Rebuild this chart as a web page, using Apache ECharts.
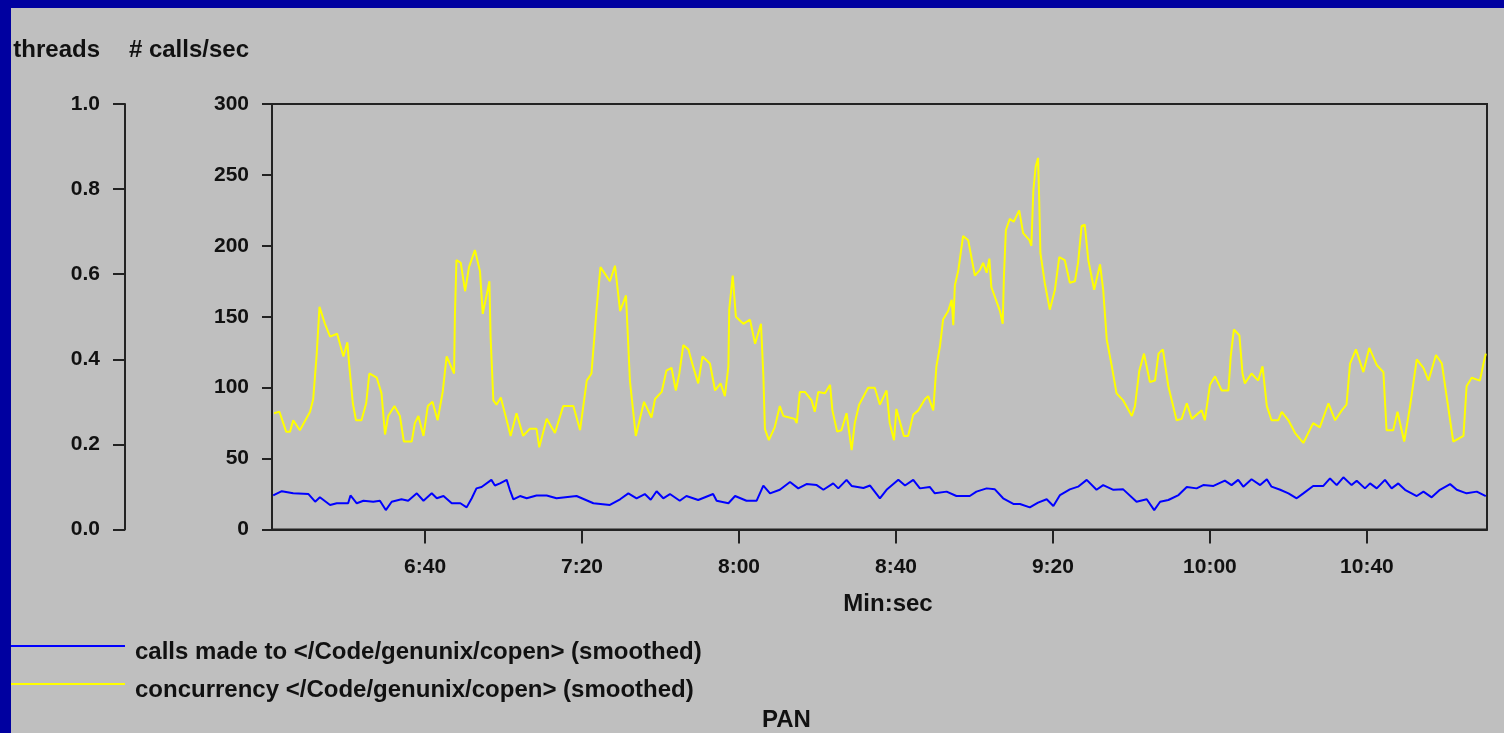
<!DOCTYPE html>
<html>
<head>
<meta charset="utf-8">
<title>copen calls / concurrency</title>
<script src="https://cdn.jsdelivr.net/npm/echarts@6/dist/echarts.min.js"></script>
<style>
  html, body { margin: 0; padding: 0; background: #bfbfbf; }
  #chart { width: 1504px; height: 733px; }
</style>
</head>
<body>
<div id="chart"></div>
<script>
// time in seconds (6:01 .. 11:10), values in calls/sec
const xTicks = [400, 440, 480, 520, 560, 600, 640]
const xMin = 361
const xMax = 670.6

const seriesNames = [
  'calls made to </Code/genunix/copen> (smoothed)',
  'concurrency </Code/genunix/copen> (smoothed)'
]

// blue line, calls made
const callsMade = [
  [361.3, 24], [363.5, 27], [366.4, 25.5], [370.3, 25], [372.0, 19.6], [373.2, 22.7], [375.8, 17.3],
  [377.5, 18.5], [380.4, 18.5], [381.0, 24], [382.6, 18.5], [384.3, 20.3], [386.8, 19.6], [388.5, 20.3],
  [390.0, 13.7], [391.5, 19.6], [394.0, 21.3], [395.7, 20.3], [397.9, 25.5], [399.6, 20.3], [401.7, 25.5],
  [403.0, 22], [404.7, 23.6], [406.8, 18.5], [409.0, 18.5], [410.6, 15.6], [411.9, 22], [413.1, 29],
  [414.4, 30], [416.9, 35], [417.8, 31], [419.1, 32.5], [420.8, 35], [421.6, 28], [422.5, 21.3],
  [424.2, 23.6], [425.9, 22], [428.4, 24], [431.0, 24], [433.5, 22], [438.6, 23.6], [442.9, 18.5],
  [447.1, 17.3], [449.7, 21.3], [451.8, 25.5], [453.9, 22], [456.0, 25], [457.5, 21], [459.0, 27],
  [460.7, 22], [462.4, 25], [464.9, 20.3], [466.6, 23.6], [469.6, 20.8], [473.4, 25], [474.3, 20.3],
  [477.3, 18.5], [479.0, 23.6], [481.9, 20.3], [484.5, 20.3], [486.2, 31], [487.9, 25.5], [490.4, 28],
  [493.0, 33.5], [495.1, 29], [497.2, 32], [499.8, 31.3], [501.5, 28], [504.0, 32.5], [505.3, 29],
  [507.4, 35], [508.7, 30.7], [511.7, 29.3], [513.4, 31], [515.9, 22], [517.6, 28], [520.6, 35],
  [522.3, 31], [524.4, 35], [526.1, 29], [528.6, 30], [529.9, 25.5], [532.9, 26.7], [535.4, 23.6],
  [538.8, 23.6], [540.5, 26.7], [543.1, 29], [545.2, 28.3], [547.3, 22], [549.9, 18], [551.6, 18],
  [554.1, 15.6], [556.2, 18.9], [558.4, 21.3], [560.1, 16.6], [561.8, 24.3], [564.3, 28.3], [566.4, 30.2],
  [568.6, 35], [571.1, 28], [572.8, 31.3], [575.4, 28], [577.9, 28.3], [581.3, 19.6], [583.9, 21.3],
  [585.8, 13.7], [587.3, 19.6], [589.4, 20.8], [592.0, 24.3], [594.1, 30], [596.6, 29], [598.3, 31.3],
  [600.9, 30.7], [603.8, 34.4], [605.5, 31.3], [607.2, 35], [608.5, 30.2], [610.6, 35.4], [612.8, 31.3],
  [614.5, 35.4], [615.7, 30.2], [617.9, 28], [620.0, 25.5], [622.1, 22], [623.8, 25.5], [626.3, 30.7],
  [628.9, 30.7], [630.6, 36], [632.3, 31.3], [634.0, 36.8], [636.1, 31.3], [637.4, 34.4], [639.5, 29],
  [640.8, 32.5], [642.5, 29], [644.6, 35], [646.3, 29], [648.0, 32.5], [649.7, 28], [652.7, 23.6],
  [654.4, 26.7], [656.5, 22.7], [658.6, 28], [661.2, 32], [662.9, 28], [665.4, 25.5], [668.0, 26.7],
  [670.3, 23.6]
]

// yellow line, concurrency
const concurrency = [
  [361.5, 82], [362.9, 83], [364.6, 69], [365.6, 69], [366.4, 77], [368.1, 70], [370.7, 83], [371.5, 92],
  [372.4, 124], [373.1, 157], [374.5, 145], [375.8, 136], [377.6, 138], [379.2, 122], [380.2, 132],
  [380.7, 115], [381.6, 89], [382.4, 77], [383.8, 77], [385.0, 89], [385.8, 110], [387.7, 107], [388.9, 96],
  [389.8, 67], [390.6, 80], [392.2, 87], [393.6, 80], [394.6, 62], [396.6, 62], [397.4, 75], [398.3, 80],
  [399.6, 66], [400.7, 87], [401.9, 90], [403.2, 77], [404.5, 97], [405.5, 122], [407.4, 110], [407.6, 150],
  [408.0, 190], [409.1, 188], [410.2, 168], [411.2, 185], [412.7, 197], [414.0, 182], [414.7, 152],
  [416.4, 175], [416.7, 136], [417.4, 91], [418.2, 88], [419.3, 93], [420.8, 77], [421.8, 66], [423.3, 82],
  [425.0, 66], [426.7, 71], [428.4, 71], [429.1, 58], [431.0, 78], [433.1, 68], [435.2, 87], [437.8, 87],
  [439.5, 70], [441.2, 105], [442.4, 110], [443.7, 155], [444.7, 185], [447.1, 175], [448.4, 186],
  [449.7, 154], [451.2, 165], [452.2, 105], [453.7, 66], [455.8, 90], [457.7, 79], [458.6, 92], [460.3, 97],
  [461.5, 112], [462.8, 114], [463.9, 98], [464.8, 110], [465.8, 130], [467.1, 127], [468.3, 115],
  [469.6, 103], [470.7, 122], [472.6, 117], [473.9, 98], [475.3, 103], [476.4, 94], [477.3, 115],
  [477.5, 155], [478.4, 179], [479.2, 150], [481.1, 145], [482.8, 148], [484.1, 131], [485.6, 145],
  [486.2, 109], [486.6, 71], [487.6, 63], [489.1, 72], [490.4, 87], [491.3, 80], [494.2, 78], [494.7, 75],
  [495.5, 97], [496.8, 97], [498.5, 91], [499.3, 83], [500.2, 97], [501.9, 96], [503.2, 102], [503.8, 84],
  [505.0, 69], [506.1, 70], [507.4, 82], [508.7, 56], [509.5, 75], [510.6, 88], [512.9, 100], [514.6, 100],
  [515.9, 88], [517.6, 98], [518.4, 75], [519.5, 63], [520.1, 85], [522.0, 66], [523.1, 66], [524.4, 81],
  [525.7, 84], [527.4, 92], [528.2, 94], [529.5, 84], [530.3, 115], [531.2, 129], [532.0, 148],
  [533.3, 154], [534.2, 162], [534.6, 144], [535.0, 172], [535.9, 183], [537.1, 207], [538.4, 204],
  [540.1, 179], [541.4, 183], [542.2, 188], [543.1, 181], [543.8, 191], [544.3, 171], [546.5, 154],
  [547.2, 145], [547.5, 178], [548.0, 211], [549.0, 219], [550.0, 217], [551.4, 225], [552.4, 209],
  [554.0, 204], [554.5, 200], [555.0, 239], [555.6, 256], [556.2, 262], [556.5, 232], [556.8, 195],
  [557.9, 174], [559.2, 155], [560.5, 169], [561.6, 192], [563.0, 190], [564.3, 174], [565.6, 175],
  [566.4, 188], [567.3, 214], [568.1, 215], [569.0, 190], [570.5, 169], [572.0, 187], [572.8, 169],
  [573.7, 134], [575.0, 115], [576.2, 96], [577.9, 91], [580.1, 80], [580.9, 87], [582.0, 112],
  [583.2, 124], [584.7, 104], [586.0, 105], [586.9, 124], [588.0, 127], [589.4, 101], [591.5, 77],
  [592.8, 78], [594.1, 89], [595.4, 78], [597.9, 84], [598.7, 77], [600.0, 102], [601.3, 108], [603.0, 98],
  [604.7, 98], [605.3, 122], [606.1, 141], [607.5, 137], [608.3, 110], [608.9, 103], [610.6, 110],
  [612.3, 105], [613.4, 115], [614.5, 87], [615.7, 77], [617.4, 77], [618.3, 83], [620.0, 77], [621.7, 68],
  [623.8, 61], [626.3, 75], [628.0, 72], [630.2, 89], [631.9, 77], [633.6, 84], [634.8, 88], [635.7, 117],
  [637.2, 127], [639.1, 111], [640.6, 128], [642.5, 116], [644.2, 111], [645.0, 70], [646.7, 70],
  [647.8, 83], [649.5, 62], [651.0, 87], [652.7, 120], [654.4, 114], [655.7, 105], [657.6, 123],
  [659.1, 117], [660.3, 94], [662.0, 62], [664.6, 66], [665.4, 101], [666.7, 107], [668.8, 105],
  [669.7, 117], [670.3, 124]
]

const FONT = "'Liberation Sans', Arial, sans-serif"
const INK = '#111'

function minSec(v) {
  const m = Math.floor(v / 60)
  const s = Math.round(v - m * 60)
  return m + ':' + (s < 10 ? '0' : '') + s
}

const chart = echarts.init(document.getElementById('chart'), null, { renderer: 'canvas' })

chart.setOption({
  animation: false,
  backgroundColor: '#bfbfbf',
  textStyle: { fontFamily: FONT, fontWeight: 'bold', color: INK },
  // blue slide frame on top and left
  graphic: [
    { type: 'rect', shape: { x: 0, y: 0, width: 1504, height: 8 }, style: { fill: '#0000a0' }, silent: true },
    { type: 'rect', shape: { x: 0, y: 0, width: 11, height: 733 }, style: { fill: '#0000a0' }, silent: true }
  ],
  title: {
    text: 'PAN',
    left: 762,
    top: 708,
    padding: 0,
    textStyle: { fontFamily: FONT, fontWeight: 'bold', fontSize: 24, color: INK }
  },
  grid: {
    left: 272,
    right: 17,
    top: 104,
    bottom: 203.5,
    outerBoundsMode: 'none',
    containLabel: false,
    show: true,
    borderColor: '#222',
    borderWidth: 2,
    backgroundColor: 'transparent'
  },
  legend: {
    orient: 'vertical',
    left: 11,
    top: 628,
    padding: 0,
    icon: 'rect',
    itemWidth: 114,
    itemHeight: 2,
    itemGap: 2,
    data: seriesNames,
    formatter: '{t|{name}}',
    textStyle: {
      fontFamily: FONT,
      fontWeight: 'bold',
      fontSize: 24,
      color: INK,
      rich: {
        t: {
          fontFamily: FONT,
          fontWeight: 'bold',
          fontSize: 24,
          lineHeight: 24,
          color: INK,
          padding: [12, 0, 0, 5] // text sits a bit below the legend line
        }
      }
    }
  },
  xAxis: {
    type: 'value',
    min: xMin,
    max: xMax,
    name: 'Min:sec',
    nameLocation: 'middle',
    nameGap: 63,
    nameTextStyle: { fontFamily: FONT, fontWeight: 'bold', fontSize: 24, color: INK, padding: [0, 0, 0, 17] },
    axisLine: { lineStyle: { color: '#222', width: 2 } },
    axisTick: { length: 14, lineStyle: { color: '#222', width: 2 }, customValues: xTicks },
    axisLabel: {
      customValues: xTicks,
      margin: 27,
      fontFamily: FONT,
      fontWeight: 'bold',
      fontSize: 21,
      color: INK,
      formatter: minSec
    },
    splitLine: { show: false }
  },
  yAxis: [
    {
      type: 'value',
      position: 'left',
      min: 0,
      max: 300,
      interval: 50,
      name: '# calls/sec',
      nameLocation: 'end',
      nameGap: 42,
      nameTextStyle: { fontFamily: FONT, fontWeight: 'bold', fontSize: 24, color: INK, align: 'right', padding: [0, 23, 0, 0] },
      axisLine: { show: true, lineStyle: { color: '#222', width: 2 } },
      axisTick: { show: true, length: 10, lineStyle: { color: '#222', width: 2 } },
      axisLabel: { margin: 23, fontFamily: FONT, fontWeight: 'bold', fontSize: 21, color: INK },
      splitLine: { show: false }
    },
    {
      type: 'value',
      position: 'left',
      offset: 147,
      min: 0,
      max: 1,
      interval: 0.2,
      name: 'threads',
      nameLocation: 'end',
      nameGap: 42,
      nameTextStyle: { fontFamily: FONT, fontWeight: 'bold', fontSize: 24, color: INK, align: 'right', padding: [0, 25, 0, 0] },
      axisLine: { show: true, lineStyle: { color: '#222', width: 2 } },
      axisTick: { show: true, length: 12, lineStyle: { color: '#222', width: 2 } },
      axisLabel: {
        margin: 25,
        fontFamily: FONT,
        fontWeight: 'bold',
        fontSize: 21,
        color: INK,
        formatter: function(v) { return v.toFixed(1) }
      },
      splitLine: { show: false }
    }
  ],
  series: [
    {
      name: seriesNames[0],
      type: 'line',
      yAxisIndex: 0,
      symbol: 'none',
      smooth: false,
      color: '#0000ff',
      lineStyle: { color: '#0000ff', width: 2 },
      data: callsMade
    },
    {
      name: seriesNames[1],
      type: 'line',
      yAxisIndex: 0,
      symbol: 'none',
      smooth: false,
      color: '#ffff00',
      lineStyle: { color: '#ffff00', width: 2 },
      data: concurrency
    }
  ]
})
</script>
</body>
</html>
